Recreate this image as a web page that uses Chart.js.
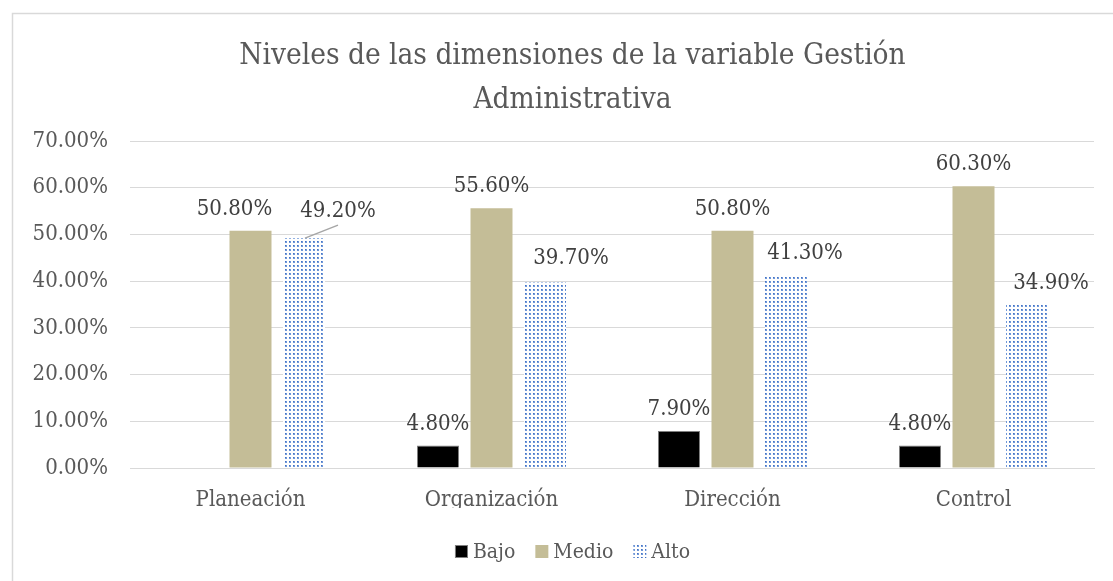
<!DOCTYPE html>
<html>
<head>
<meta charset="utf-8">
<script src="https://cdn.jsdelivr.net/npm/chart.js@4.4.1/dist/chart.umd.min.js"></script>
<style>
body{margin:0;background:#fff;}
#wrap{position:absolute;left:0;top:0;width:1113px;height:581px;}
</style>
</head>
<body>
<div id="wrap"><canvas id="myChart" width="1113" height="581"></canvas></div>
<script>

var titulo = ['Niveles de las dimensiones de la variable Gestión', 'Administrativa'];
var categorias = ['Planeación', 'Organización', 'Dirección', 'Control'];
var series = ['Bajo', 'Medio', 'Alto'];
var bajo = [0, 4.8, 7.9, 4.8];
var medio = [50.8, 55.6, 50.8, 60.3];
var alto = [49.2, 39.7, 41.3, 34.9];
var ejeY = [0, 10, 20, 30, 40, 50, 60, 70];

var fuente = "'DejaVu Serif Condensed', 'DejaVu Serif', serif";
Chart.defaults.font.family = fuente;
Chart.defaults.color = '#595959';

// frame of the chart (goes past the window on the right/bottom)
var MARCO = {x: 12, y: 13, w: 1121, h: 700};

// dotted pattern for "Alto"
function patron() {
  var c = document.createElement('canvas');
  c.width = 4; c.height = 4;
  var x = c.getContext('2d');
  x.fillStyle = '#ffffff';
  x.fillRect(0, 0, 4, 4);
  x.fillStyle = '#6f97d8';
  x.fillRect(1, 1, 2, 2);
  x.fillStyle = '#4472c4';
  x.fillRect(1, 1, 1, 1);
  return x.createPattern(c, 'repeat');
}

var marco = {
  id: 'marco',
  beforeDraw: function(chart) {
    var ctx = chart.ctx;
    ctx.save();
    ctx.fillStyle = '#fff';
    ctx.fillRect(0, 0, chart.width, chart.height);
    ctx.strokeStyle = '#d9d9d9';
    ctx.lineWidth = 1.5;
    ctx.strokeRect(MARCO.x + 0.5, MARCO.y + 0.5, MARCO.w, MARCO.h);
    ctx.restore();
  },
  afterDraw: function(chart) {
    var ctx = chart.ctx;
    var cx = MARCO.x + MARCO.w / 2;
    ctx.save();
    // title
    ctx.fillStyle = '#595959';
    ctx.textAlign = 'center';
    ctx.textBaseline = 'alphabetic';
    ctx.font = '29.5px ' + fuente;
    ctx.fillText(titulo[0], cx, 64);
    ctx.fillText(titulo[1], cx, 108);
    // legend
    ctx.font = '21px ' + fuente;
    ctx.textAlign = 'left';
    var items = chart.data.datasets.map(function(ds) {
      return {t: ds.label, c: ds.backgroundColor, b: ds.borderWidth ? ds.borderColor : null, w: ctx.measureText(ds.label).width};
    });
    var caja = 13, gap = 5, sep = 20;
    var total = 0;
    items.forEach(function(it, i) { total += caja + gap + it.w + (i ? sep : 0); });
    var x = cx - total / 2;
    items.forEach(function(it) {
      ctx.fillStyle = it.c;
      ctx.fillRect(x, 545, caja, caja);
      if (it.b) {
        ctx.strokeStyle = it.b;
        ctx.lineWidth = 1;
        ctx.strokeRect(x + 0.5, 545.5, caja - 1, caja - 1);
      }
      ctx.fillStyle = '#595959';
      ctx.fillText(it.t, x + caja + gap, 558);
      x += caja + gap + it.w + sep;
    });
    ctx.restore();
  }
};

// value labels on top of the bars
var etiquetas = {
  id: 'etiquetas',
  afterDatasetsDraw: function(chart, args, opts) {
    var ctx = chart.ctx;
    ctx.save();
    ctx.font = '22px ' + fuente;
    ctx.fillStyle = '#404040';
    ctx.textAlign = 'center';
    ctx.textBaseline = 'alphabetic';
    chart.data.datasets.forEach(function(ds, i) {
      var meta = chart.getDatasetMeta(i);
      meta.data.forEach(function(bar, j) {
        var v = ds.data[j];
        if (!v) return;
        var off = opts.desplaza[i + '-' + j] || [0, 0];
        var tx = bar.x + off[0];
        var ty = bar.y - 16 + off[1];
        if (opts.guia.indexOf(i + '-' + j) >= 0) {
          ctx.strokeStyle = '#a6a6a6';
          ctx.lineWidth = 1.5;
          ctx.beginPath();
          ctx.moveTo(bar.x + 1, bar.y);
          ctx.lineTo(tx, ty + 8);
          ctx.stroke();
        }
        ctx.fillText(v.toFixed(2) + '%', tx, ty);
      });
    });
    ctx.restore();
  }
};

var ctx = document.getElementById('myChart').getContext('2d');

var myChart = new Chart(ctx, {
  type: 'bar',
  data: {
    labels: categorias,
    datasets: [{
      label: series[0],
      data: bajo,
      backgroundColor: '#000000',
      borderColor: '#7f7f7f',
      borderWidth: 1
    }, {
      label: series[1],
      data: medio,
      backgroundColor: '#c4bd97',
      borderWidth: 0
    }, {
      label: series[2],
      data: alto,
      backgroundColor: patron(),
      borderWidth: 0
    }]
  },
  options: {
    responsive: false,
    animation: false,
    categoryPercentage: 0.666,
    barPercentage: 0.785,
    layout: {
      padding: {top: 141, left: 12, right: 19, bottom: 73}
    },
    plugins: {
      title: {display: false},
      legend: {display: false},
      tooltip: {enabled: false},
      etiquetas: {
        desplaza: {'1-0': [-16, 0], '2-0': [34, -5], '2-1': [26, -3], '2-2': [19, 0], '2-3': [24, 0]},
        guia: ['2-0']
      }
    },
    scales: {
      x: {
        grid: {display: false},
        border: {display: true, color: '#d9d9d9', width: 1},
        afterFit: function(s) { s.height = 40; },
        ticks: {padding: 11, color: '#595959', font: {size: 22}}
      },
      y: {
        min: 0,
        max: 70,
        afterBuildTicks: function(s) {
          s.ticks = ejeY.map(function(v) { return {value: v}; });
        },
        afterFit: function(s) { s.width = 118; },
        grid: {color: '#d9d9d9', lineWidth: 1, drawTicks: false},
        border: {display: false},
        ticks: {
          padding: 22,
          color: '#595959',
          font: {size: 22},
          callback: function(v) { return v.toFixed(2) + '%'; }
        }
      }
    }
  },
  plugins: [marco, etiquetas]
});

</script>
</body>
</html>
